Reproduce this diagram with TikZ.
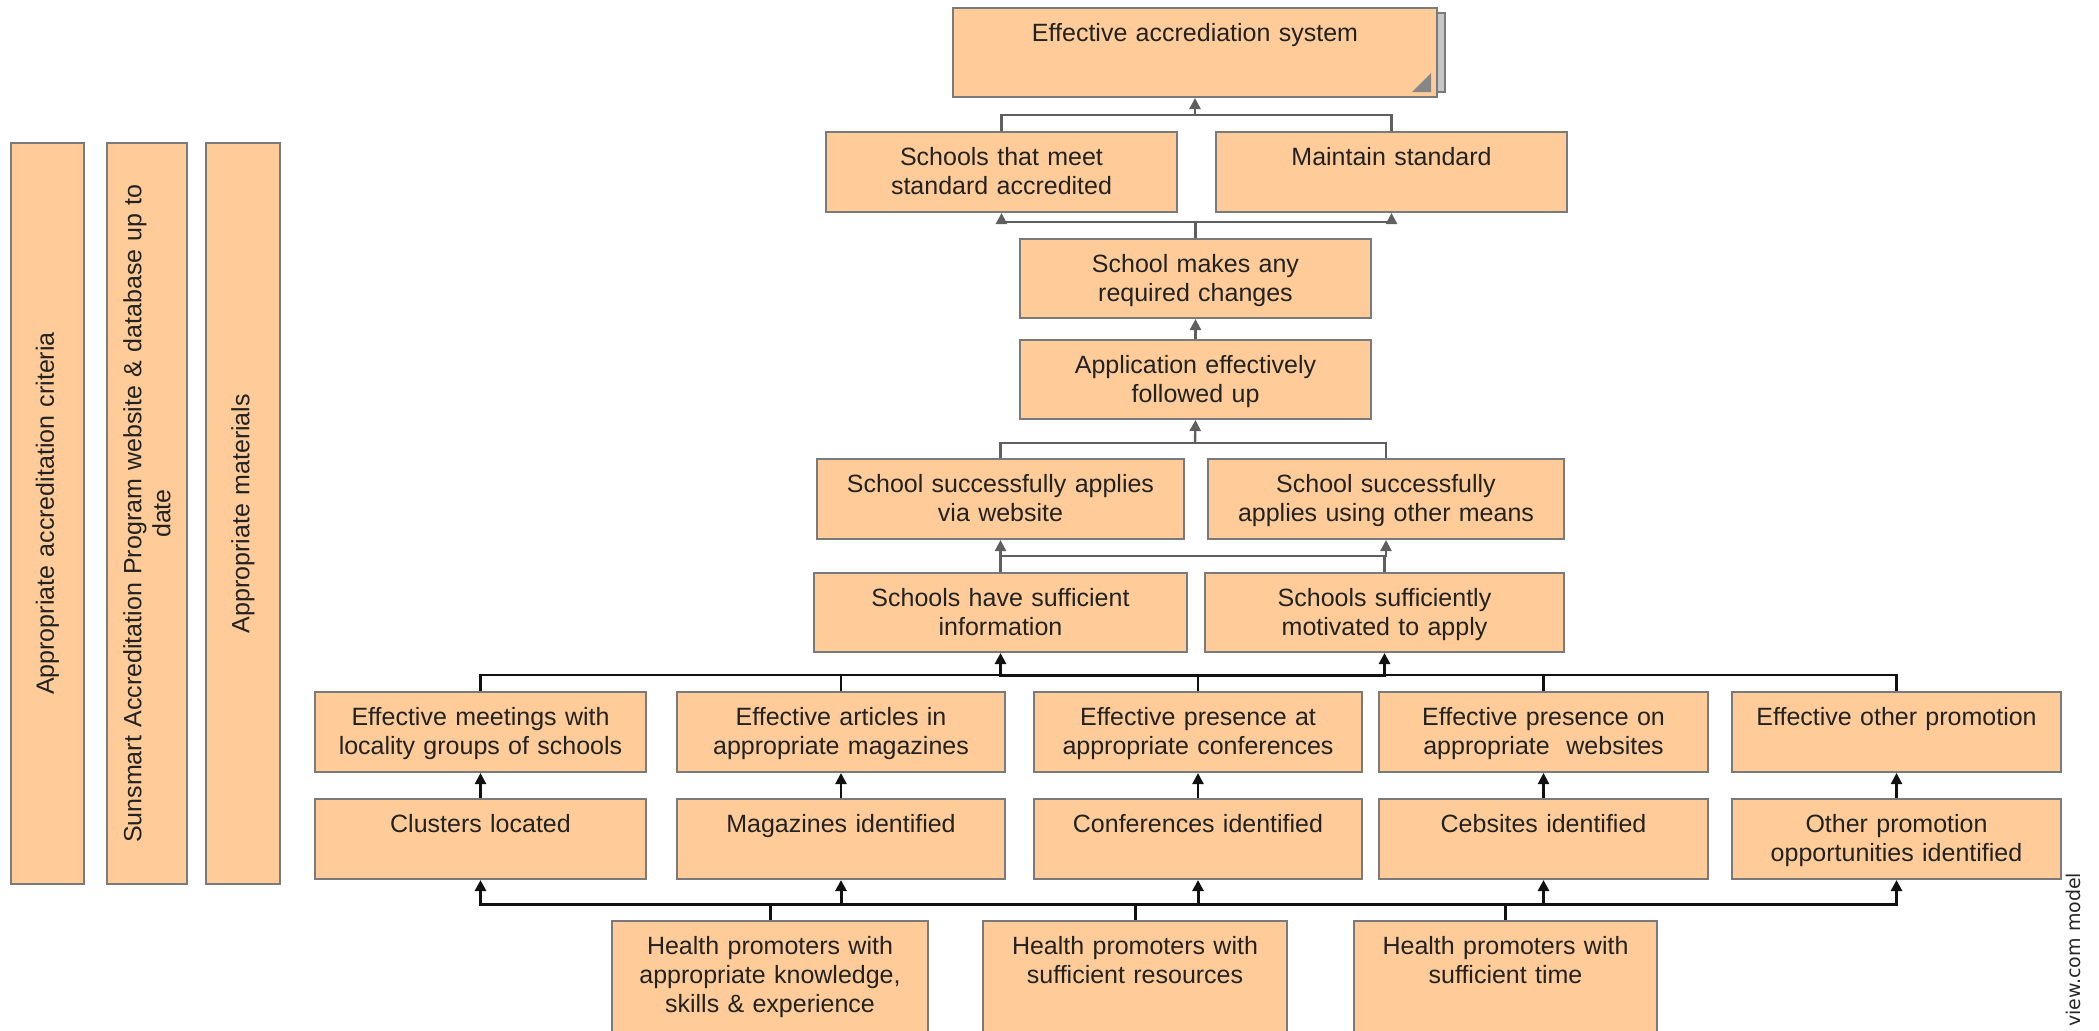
\documentclass[tikz,border=0pt]{standalone}
\usepackage{fontspec}
\setmainfont{Liberation Sans}
\newfontfamily\wmfont{DejaVu Sans}
\usetikzlibrary{arrows.meta,fit}
\definecolor{boxfill}{HTML}{FFCC99}
\definecolor{boxline}{HTML}{7A7A7A}
\definecolor{txtcol}{HTML}{222222}
\definecolor{connG}{HTML}{5F5F5F}
\definecolor{connK}{HTML}{111111}
\newcommand\mkbox[6]{%
  \node[boxst, fit={(#2,#3) (#4,#5)}] (#1) {};
  \node[txtst, anchor=base] (#1-t) at ([yshift=-17pt]#1.north) {#6};
}
\newcommand\mkvbox[6]{%
  \node[boxst, fit={(#2,#3) (#4,#5)}] (#1) {};
  \node[txtst, rotate=90, text width=380pt, anchor=center] (#1-t) at (#1.center) {#6};
}
\begin{document}
\begin{tikzpicture}[x=0.5pt,y=-0.5pt,
  >={Triangle[width=5.5pt,length=5.5pt]},
  boxst/.style={draw=boxline, fill=boxfill, line width=1pt, inner sep=0pt},
  txtst/.style={text=txtcol, font=\fontsize{12.5}{14.5}\selectfont, align=center, text width=220pt, inner sep=0pt},
  cg/.style={draw=connG, line width=1.2pt},
  ck/.style={draw=connK, line width=1.5pt},
  ck2/.style={draw=connK, line width=1.1pt}]
\useasboundingbox (0,0) rectangle (2099,1030);

% left vertical boxes
\mkvbox{L1}{11}{143}{84}{884}{Appropriate accreditation criteria}
\mkvbox{L2}{107}{143}{187}{884}{Sunsmart Accreditation Program website \& database up to\\date}
\mkvbox{L3}{206}{143}{280}{884}{Appropriate materials}

% top box with stacked shadow and corner mark
\draw[draw=boxline, fill=gray!45, line width=1pt] (1420,13) rectangle (1445,92);
\mkbox{top}{953}{8}{1437}{97}{Effective accrediation system}
\fill[gray!95] (1431,73) -- (1431,92) -- (1412,92) -- cycle;

\mkbox{stm}{826}{132}{1177}{212}{Schools that meet\\standard accredited}
\mkbox{maint}{1216}{132}{1567}{212}{Maintain standard}
\mkbox{smac}{1020}{239}{1371}{318}{School makes any\\required changes}
\mkbox{app}{1020}{340}{1371}{419}{Application effectively\\followed up}
\mkbox{web}{817}{459}{1184}{539}{School successfully applies\\via website}
\mkbox{oth}{1208}{459}{1564}{539}{School successfully\\applies using other means}
\mkbox{info}{814}{573}{1187}{652}{Schools have sufficient\\information}
\mkbox{mot}{1205}{573}{1564}{652}{Schools sufficiently\\motivated to apply}

\mkbox{r5a}{315}{692}{646}{772}{Effective meetings with\\locality groups of schools}
\mkbox{r5b}{677}{692}{1005}{772}{Effective articles in\\appropriate magazines}
\mkbox{r5c}{1034}{692}{1362}{772}{Effective presence at\\appropriate conferences}
\mkbox{r5d}{1379}{692}{1708}{772}{Effective presence on\\appropriate\ \ websites}
\mkbox{r5e}{1732}{692}{2061}{772}{Effective other promotion}

\mkbox{r6a}{315}{799}{646}{879}{Clusters located}
\mkbox{r6b}{677}{799}{1005}{879}{Magazines identified}
\mkbox{r6c}{1034}{799}{1362}{879}{Conferences identified}
\mkbox{r6d}{1379}{799}{1708}{879}{Cebsites identified}
\mkbox{r6e}{1732}{799}{2061}{879}{Other promotion\\opportunities identified}

\mkbox{hp1}{612}{921}{928}{1036}{Health promoters with\\appropriate knowledge,\\skills \& experience}
\mkbox{hp2}{983}{921}{1287}{1036}{Health promoters with\\sufficient resources}
\mkbox{hp3}{1354}{921}{1657}{1036}{Health promoters with\\sufficient time}

% junction points
\coordinate (j1) at (1195,115);
\coordinate (j2) at (1195,222);
\coordinate (j3) at (1195,443);
\coordinate (j4) at (1195,556);
\coordinate (j5) at (1195,675);
\coordinate (j6) at (1195,904);

% connectors
\draw[cg] (stm.north) |- (j1) -| (maint.north);
\draw[cg,->] (j1) -- (top.south);

\draw[cg] (smac.north) |- (j2);
\draw[cg,->] (j2) -| (stm.south);
\draw[cg,->] (j2) -| (maint.south);

\draw[cg,->] (app.north) -- (smac.south);

\draw[cg] (web.north) |- (j3) -| (oth.north);
\draw[cg,->] (j3) -- (app.south);

\draw[cg] (info.north) |- (j4) -| (mot.north);
\draw[cg,->] (j4) -| (web.south);
\draw[cg,->] (j4) -| (oth.south);

\draw[ck2] (r5a.north) |- (j5);
\draw[ck2] (r5b.north) |- (j5);
\draw[ck2] (r5c.north) |- (j5);
\draw[ck2] (r5d.north) |- (j5);
\draw[ck2] (r5e.north) |- (j5);
\draw[ck,->] (j5) -| (info.south);
\draw[ck,->] (j5) -| (mot.south);

\draw[ck2,->] (r6a.north) -- (r5a.south);
\draw[ck2,->] (r6b.north) -- (r5b.south);
\draw[ck2,->] (r6c.north) -- (r5c.south);
\draw[ck2,->] (r6d.north) -- (r5d.south);
\draw[ck2,->] (r6e.north) -- (r5e.south);

\draw[ck] (hp1.north) |- (j6);
\draw[ck] (hp2.north) |- (j6);
\draw[ck] (hp3.north) |- (j6);
\draw[ck,->] (j6) -| (r6a.south);
\draw[ck,->] (j6) -| (r6b.south);
\draw[ck,->] (j6) -| (r6c.south);
\draw[ck,->] (j6) -| (r6d.south);
\draw[ck,->] (j6) -| (r6e.south);

% watermark
\node[rotate=90, anchor=west, inner sep=0pt, text=black!85, font=\wmfont\fontsize{9.5}{11}\selectfont] (wm) at (2073,1027) {view.com model};
\end{tikzpicture}
\end{document}
